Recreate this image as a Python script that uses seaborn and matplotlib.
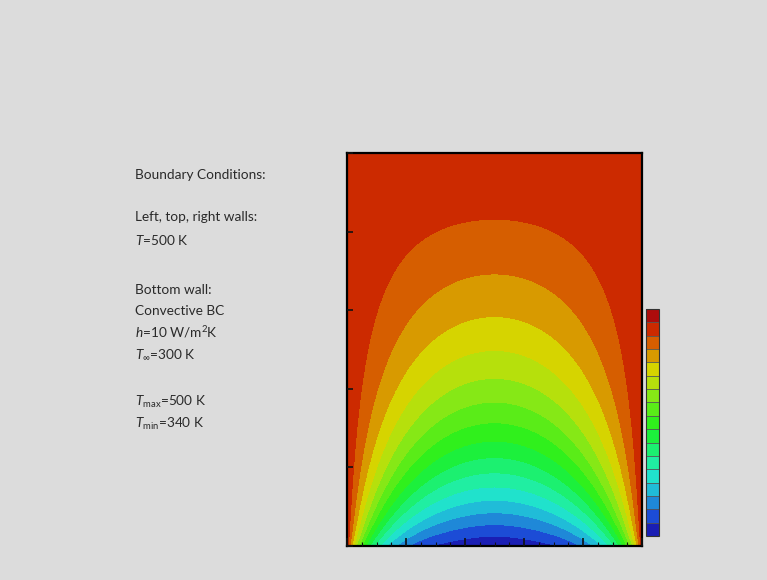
import numpy as np
import matplotlib
matplotlib.use("Agg")
import matplotlib.pyplot as plt
import seaborn as sns

# ---- data ----
# walls (left, top, right) temperature
T_wall = 500.0
# temperature along the bottom wall (symmetric about the centre)
bottom_x = [0.0, 0.015, 0.035, 0.06, 0.085, 0.11, 0.15, 0.20, 0.27, 0.38, 0.5]
bottom_T = [500, 470, 445, 422, 404, 390, 374, 361, 350.5, 344, 340.5]
# contour levels (K) and band colours
levels = [340, 350, 360, 370, 380, 390, 400, 410, 420, 430, 440, 450, 460, 470, 480, 490, 500, 510]
band_colors = ["#1a1eb4", "#1c4cd6", "#1f88d8", "#20bcd8", "#20e2cc", "#20eea2",
               "#1cf070", "#1cf03c", "#30f01c", "#5aec18", "#86e816", "#b6e00c",
               "#d6d400", "#d89a00", "#d65e00", "#cc2a00", "#ad0c0c"]
x_ticks = [0.0, 0.2, 0.4, 0.6, 0.8, 1.0]
y_ticks = [0.0, 0.2, 0.4, 0.6, 0.8, 1.0]

text_lines = [
    ("Boundary Conditions:", 175),
    ("Left, top, right walls:", 217),
    ("$T$=500 K", 240),
    ("Bottom wall:", 290),
    ("Convective BC", 311),
    ("$h$=10 W/m$^2$K", 332),
    ("$T_{\\infty}$=300 K", 354),
    ("$T_{\\mathrm{max}}$=500 K", 402),
    ("$T_{\\mathrm{min}}$=340 K", 424),
]

# model settings for the field (domain aspect and mild lateral stretch)
aspect = 0.94
gamma = 0.95


def warp(x):
    x = np.asarray(x, dtype=float)
    u = np.minimum(x, 1 - x)
    w = 0.5 * (2 * u) ** gamma
    return np.where(x <= 0.5, w, 1 - w)


# ---- temperature field: harmonic extension of the wall temperatures ----
nx = ny = 500
xs = np.linspace(0, 1, nx)
ys = np.linspace(0, 1, ny)
sf = np.linspace(0, 1, 4001)
theta_b = np.interp(np.minimum(sf, 1 - sf), warp(bottom_x), bottom_T) - T_wall
N = 400
n = np.arange(1, N + 1)[:, None]
b = 2 * np.trapezoid(theta_b[None, :] * np.sin(n * np.pi * sf[None, :]), sf, axis=1)
sinX = np.sin(n * np.pi * warp(xs)[None, :])
Yr = ys[None, :]
a = n * np.pi * aspect
R = np.exp(-a * Yr) * (1 - np.exp(-2 * a * (1 - Yr))) / (1 - np.exp(-2 * a))
T = T_wall + R.T @ (b[:, None] * sinX)
T = np.clip(T, levels[0], T_wall)
X, Y = np.meshgrid(xs, ys)

# ---- figure ----
sns.set_theme(style="white")
plt.rcParams["font.family"] = ["Lato", "DejaVu Sans"]
plt.rcParams["mathtext.fontset"] = "custom"
plt.rcParams["mathtext.rm"] = "Lato"
plt.rcParams["mathtext.it"] = "Lato:italic"
plt.rcParams["mathtext.bf"] = "Lato:bold"

W, H = 767, 580
bg = "#dcdcdc"
fig = plt.figure(figsize=(W / 100, H / 100), dpi=100, facecolor=bg)

ax = fig.add_axes([347 / W, 1 - 546 / H, 295 / W, 393 / H])
cs = ax.contourf(X, Y, T, levels=levels, colors=band_colors)
ax.set_axisbelow(False)
ax.set_xlim(0, 1)
ax.set_ylim(0, 1)
ax.set_xticks(x_ticks)
ax.set_yticks(y_ticks)
ax.set_xticks(np.arange(0, 1.0001, 0.05), minor=True)
ax.set_xticklabels([])
ax.set_yticklabels([])
ax.tick_params(axis="x", which="major", direction="in", length=6, width=1.2,
               color="#111111", bottom=True, top=False)
ax.tick_params(axis="x", which="minor", direction="in", length=3, width=0.8,
               color="#111111", bottom=True, top=False)
ax.tick_params(axis="y", which="major", direction="in", length=4.5, width=1.2,
               color="#111111", left=True, right=False)
for s in ax.spines.values():
    s.set_color("black")
    s.set_linewidth(1.6)
    s.set_visible(True)

cax = fig.add_axes([646 / W, 1 - 536 / H, 13 / W, 227 / H])
cb = fig.colorbar(cs, cax=cax, drawedges=True)
cb.set_ticks([])
cb.outline.set_edgecolor("#333333")
cb.outline.set_linewidth(0.8)
cb.dividers.set_color("#555555")
cb.dividers.set_linewidth(0.6)

for txt, ypx in text_lines:
    fig.text(135 / W, 1 - ypx / H, txt, fontsize=9.8, color="#2a2a2a",
             ha="left", va="center")

fig.savefig("out.png", dpi=100, facecolor=bg)
